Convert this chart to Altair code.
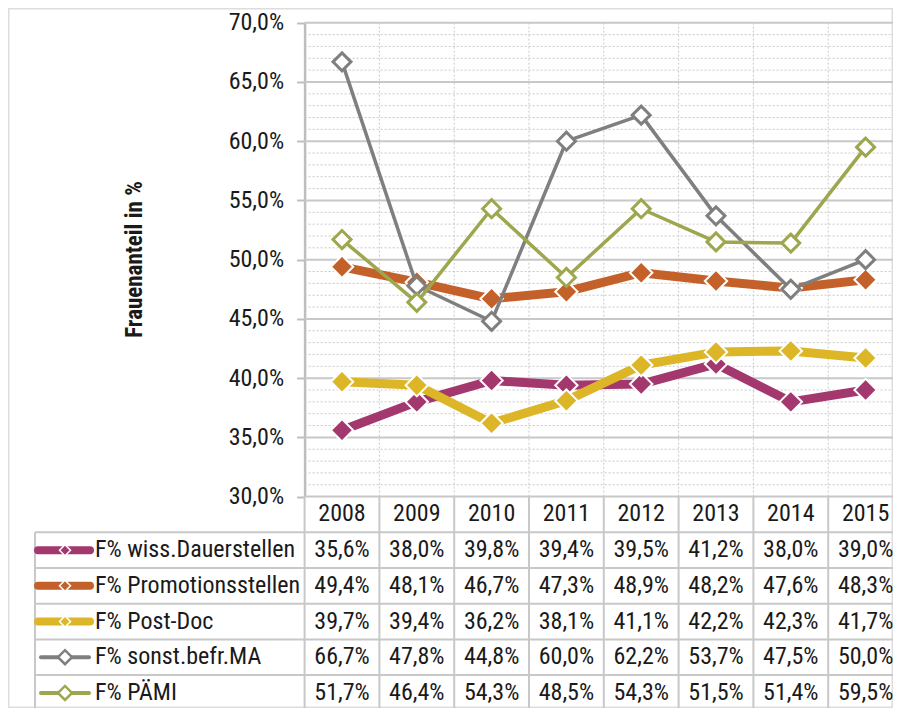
import altair as alt
import pandas as pd

# ---------------- data ----------------
years = [2008, 2009, 2010, 2011, 2012, 2013, 2014, 2015]
series_names = [
    "F% wiss.Dauerstellen",
    "F% Promotionsstellen",
    "F% Post-Doc",
    "F% sonst.befr.MA",
    "F% PÄMI",
]
wiss_dauer = [35.6, 38.0, 39.8, 39.4, 39.5, 41.2, 38.0, 39.0]
promotion = [49.4, 48.1, 46.7, 47.3, 48.9, 48.2, 47.6, 48.3]
post_doc = [39.7, 39.4, 36.2, 38.1, 41.1, 42.2, 42.3, 41.7]
sonst_ma = [66.7, 47.8, 44.8, 60.0, 62.2, 53.7, 47.5, 50.0]
paemi = [51.7, 46.4, 54.3, 48.5, 54.3, 51.5, 51.4, 59.5]
series_values = [wiss_dauer, promotion, post_doc, sonst_ma, paemi]

y_major = [30, 35, 40, 45, 50, 55, 60, 65, 70]
y_minor = [v for v in range(31, 70) if v % 5 != 0]
y_title = "Frauenanteil in %"

# ---------------- styles ----------------
colors = ["#A3386F", "#C4612A", "#DDB627", "#7F7F7F", "#9EA64E"]
filled = [True, True, True, False, False]
FONT = "Roboto Condensed, Liberation Sans Narrow, Arial Narrow, sans-serif"
FS = 24
TXT = "#1A1A1A"
GRID = "#C8C8C8"

# ---------------- layout (pixels, chart coords) ----------------
W, H = 885, 700
K = 700 / 712  # vertical fit factor
COLW = 74.8
PLOT_X0 = 334 - COLW / 2
PLOT_TOP, PLOT_BOT = 15 * K, 497 * K
ROW_H = 36.3 * K
LEG_X0 = 27
NCOL = len(years)
NROW = len(series_names) + 1

def u(px):
    return (px - PLOT_X0) / COLW

LEGW = u(LEG_X0)

yv = alt.Scale(domain=[30, 70], range=[PLOT_BOT, PLOT_TOP], zero=False, nice=False)
xp = alt.Scale(type="point", domain=years, range=[PLOT_X0 + COLW / 2, PLOT_X0 + COLW * (NCOL - 0.5)], padding=0)
xc = alt.Scale(domain=[0, NCOL], range=[PLOT_X0, PLOT_X0 + COLW * NCOL], zero=False, nice=False)
yr = alt.Scale(domain=[0, NROW], range=[PLOT_BOT, PLOT_BOT + ROW_H * NROW], zero=False, nice=False)

layers = []

# minor dotted horizontal grid
layers.append(
    alt.Chart(pd.DataFrame({"v": y_minor})).mark_rule(color=GRID, strokeWidth=1, strokeDash=[2, 2]).encode(
        y=alt.Y("v:Q", scale=yv, axis=None),
        x=alt.X(datum=0, scale=xc, axis=None),
        x2=alt.X2(datum=NCOL),
    )
)
# vertical dotted category boundaries in plot
layers.append(
    alt.Chart(pd.DataFrame({"c": list(range(1, NCOL))})).mark_rule(color=GRID, strokeWidth=1, strokeDash=[2, 2]).encode(
        x=alt.X("c:Q", scale=xc, axis=None),
        y=alt.Y(datum=30, scale=yv, axis=None),
        y2=alt.Y2(datum=70),
    )
)
# major solid grid + y axis
layers.append(
    alt.Chart(pd.DataFrame({"v": y_major})).mark_rule(color=GRID, strokeWidth=2).encode(
        y=alt.Y(
            "v:Q",
            scale=yv,
            axis=alt.Axis(
                values=y_major,
                offset=-PLOT_X0,
                grid=False,
                domain=True,
                domainColor="#BEBEBE",
                domainWidth=2.5,
                ticks=True,
                tickSize=8,
                tickColor="#BEBEBE",
                tickWidth=2,
                labelFont=FONT,
                labelFontSize=FS,
                labelColor=TXT,
                labelPadding=13,
                labelExpr="replace(format(datum.value, '.1f'), '.', ',') + '%'",
                title=y_title,
                titleFont=FONT,
                titleFontSize=23,
                titleFontWeight="bold",
                titleColor=TXT,
                titleAngle=270,
                titleX=-170,
                titleY=251,
                titleAlign="center",
                titleBaseline="middle",
            ),
        ),
        x=alt.X(datum=0, scale=xc, axis=None),
        x2=alt.X2(datum=NCOL),
    )
)

# table grid: vertical column boundaries
layers.append(
    alt.Chart(pd.DataFrame({"c": list(range(0, NCOL + 1))})).mark_rule(color=GRID, strokeWidth=2).encode(
        x=alt.X("c:Q", scale=xc, axis=None),
        y=alt.Y(datum=0, scale=yr, axis=None),
        y2=alt.Y2(datum=NROW),
    )
)
# table grid: horizontal row boundaries
layers.append(
    alt.Chart(pd.DataFrame({"r": list(range(1, NROW + 1))})).mark_rule(color=GRID, strokeWidth=2).encode(
        y=alt.Y("r:Q", scale=yr, axis=None),
        x=alt.X(datum=LEGW, scale=xc, axis=None),
        x2=alt.X2(datum=NCOL),
    )
)
# table grid: legend column left border
layers.append(
    alt.Chart(pd.DataFrame({"c": [LEGW]})).mark_rule(color=GRID, strokeWidth=2).encode(
        x=alt.X("c:Q", scale=xc, axis=None),
        y=alt.Y(datum=1, scale=yr, axis=None),
        y2=alt.Y2(datum=NROW),
    )
)

# header years
hdr = pd.DataFrame({"year": years, "label": [str(y) for y in years], "r": 0.5})
layers.append(
    alt.Chart(hdr).mark_text(font=FONT, fontSize=FS, color=TXT, align="center", baseline="middle").encode(
        x=alt.X("year:O", scale=xp, axis=None),
        y=alt.Y("r:Q", scale=yr, axis=None),
        text="label:N",
    )
)

# value cells
rows = []
for i, (name, vals) in enumerate(zip(series_names, series_values)):
    for y, v in zip(years, vals):
        rows.append({"series": name, "year": y, "value": v, "r": i + 1.5,
                     "label": f"{v:.1f}".replace(".", ",") + "%"})
cells = pd.DataFrame(rows)
layers.append(
    alt.Chart(cells).mark_text(font=FONT, fontSize=FS, color=TXT, align="center", baseline="middle").encode(
        x=alt.X("year:O", scale=xp, axis=None),
        y=alt.Y("r:Q", scale=yr, axis=None),
        text="label:N",
    )
)

# legend texts
leg = pd.DataFrame({"series": series_names, "r": [i + 1.5 for i in range(len(series_names))]})
layers.append(
    alt.Chart(leg).mark_text(font=FONT, fontSize=FS, color=TXT, align="left", baseline="middle", dx=60).encode(
        x=alt.X(datum=LEGW, scale=xc, axis=None),
        y=alt.Y("r:Q", scale=yr, axis=None),
        text="series:N",
    )
)

# series lines, markers, and legend symbols
for i, (name, vals) in enumerate(zip(series_names, series_values)):
    d = cells[cells["series"] == name]
    c = colors[i]
    lw = 9 if filled[i] else 3.5
    layers.append(
        alt.Chart(d).mark_line(color=c, strokeWidth=lw, strokeJoin="round").encode(
            x=alt.X("year:O", scale=xp, axis=None),
            y=alt.Y("value:Q", scale=yv, axis=None),
        )
    )
    if filled[i]:
        pm = alt.Chart(d).mark_point(shape="diamond", filled=True, size=500, fill=c, stroke="white",
                                     strokeWidth=2, opacity=1)
    else:
        pm = alt.Chart(d).mark_point(shape="diamond", filled=True, size=324, fill="white", stroke=c,
                                     strokeWidth=3, opacity=1)
    layers.append(pm.encode(x=alt.X("year:O", scale=xp, axis=None), y=alt.Y("value:Q", scale=yv, axis=None)))

    ld = leg[leg["series"] == name]
    if filled[i]:
        lx0, lx1 = u(30), u(82)
    else:
        lx0, lx1 = u(33), u(81)
    layers.append(
        alt.Chart(ld).mark_rule(color=c, strokeWidth=8 if filled[i] else 4, strokeCap="round").encode(
            x=alt.X(datum=lx0, scale=xc, axis=None),
            x2=alt.X2(datum=lx1),
            y=alt.Y("r:Q", scale=yr, axis=None),
        )
    )
    if filled[i]:
        lm = alt.Chart(ld).mark_point(shape="diamond", filled=True, size=121, fill=c, stroke="white",
                                      strokeWidth=1.5, opacity=1)
    else:
        lm = alt.Chart(ld).mark_point(shape="diamond", filled=True, size=196, fill="white", stroke=c,
                                      strokeWidth=2.5, opacity=1)
    layers.append(lm.encode(x=alt.X(datum=u(57), scale=xc, axis=None), y=alt.Y("r:Q", scale=yr, axis=None)))

chart = (
    alt.layer(*layers)
    .resolve_scale(x="independent", y="independent")
    .properties(width=W, height=H, padding=0, autosize=alt.AutoSizeParams(type="none"), background="white")
    .configure_view(stroke="#DDDDDD", strokeWidth=3)
)

chart.save("out.html", embed_options={"renderer": "svg", "actions": False})
